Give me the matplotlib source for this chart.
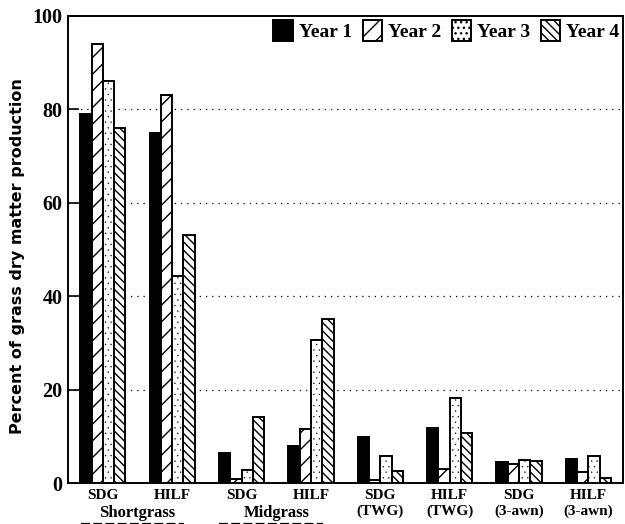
import numpy as np
import matplotlib
matplotlib.use("Agg")
import matplotlib.pyplot as plt
from matplotlib.transforms import blended_transform_factory

# values (percent of grass dry matter production)
groups = ["SDG", "HILF", "SDG", "HILF", "SDG\n(TWG)", "HILF\n(TWG)",
          "SDG\n(3-awn)", "HILF\n(3-awn)"]
year1 = [79, 75, 6.4, 8.0, 9.8, 11.9, 4.6, 5.2]
year2 = [94, 83, 0.8, 11.6, 0.6, 3.0, 4.1, 2.3]
year3 = [86, 44.4, 2.8, 30.6, 5.7, 18.2, 4.9, 5.9]
year4 = [76, 53, 14.1, 35.1, 2.7, 10.8, 4.8, 1.2]
series_names = ["Year 1", "Year 2", "Year 3", "Year 4"]
super_labels = [("Shortgrass", 0.5), ("Midgrass", 2.5)]
yticks = [0, 20, 40, 60, 80, 100]

plt.rcParams["hatch.linewidth"] = 1.0
serif = "Liberation Serif"

fig = plt.figure(figsize=(6.25, 5.24), dpi=100)
ax = fig.add_axes([0.109, 0.078, 0.888, 0.892])

x = np.arange(len(groups))
w = 0.163
styles = [
    dict(color="black", edgecolor="black"),
    dict(color="white", edgecolor="black", hatch="//"),
    dict(color="white", edgecolor="black", hatch="..."),
    dict(color="white", edgecolor="black", hatch="\\\\\\\\"),
]
hatch_lw = [1.0, 1.0, 0.2, 1.0]
for i, (vals, name, st) in enumerate(zip([year1, year2, year3, year4], series_names, styles)):
    bars = ax.bar(x + (i - 1.5) * w, vals, w, label=name, linewidth=1.4, zorder=3, **st)
    for b in bars:
        if hasattr(b, "set_hatch_linewidth"):
            b.set_hatch_linewidth(hatch_lw[i])

ax.set_xlim(-0.5, len(groups) - 0.5)
ax.set_ylim(0, 100)
ax.set_yticks(yticks)
ax.set_yticklabels([str(t) for t in yticks], fontfamily=serif, fontweight="bold", fontsize=14.5)
ax.tick_params(axis="y", direction="in", length=8, width=1.2, pad=4)
ax.set_xticks(x)
ax.set_xticklabels(groups, fontfamily=serif, fontweight="bold", fontsize=11, linespacing=1.25)
ax.tick_params(axis="x", length=0, pad=4)
for s in ax.spines.values():
    s.set_linewidth(1.4)

for yv in yticks[1:-1]:
    ax.axhline(yv, color="black", linestyle=(0, (1, 4)), linewidth=0.9, zorder=1)

ax.set_ylabel("Percent of grass dry matter production", fontfamily="DejaVu Sans",
              fontweight="bold", fontsize=11.5)
ax.yaxis.set_label_coords(-0.078, 0.485)

trans = blended_transform_factory(ax.transData, ax.transAxes)
for lab, xc in super_labels:
    ax.text(xc, -0.063, lab, transform=trans, ha="center", va="center",
            fontfamily=serif, fontweight="bold", fontsize=12)
    ax.plot([xc - 0.82, xc + 0.67], [-0.088, -0.088], transform=trans, color="black",
            linestyle=(0, (4, 1.5)), linewidth=1.6, clip_on=False)

leg = ax.legend(loc="upper right", ncol=4, frameon=False, handlelength=1.0, handleheight=1.3,
                handletextpad=0.3, columnspacing=0.55, borderaxespad=0.05, borderpad=0.15,
                prop=dict(family=serif, weight="bold", size=14))

fig.savefig("out.png", dpi=100)
